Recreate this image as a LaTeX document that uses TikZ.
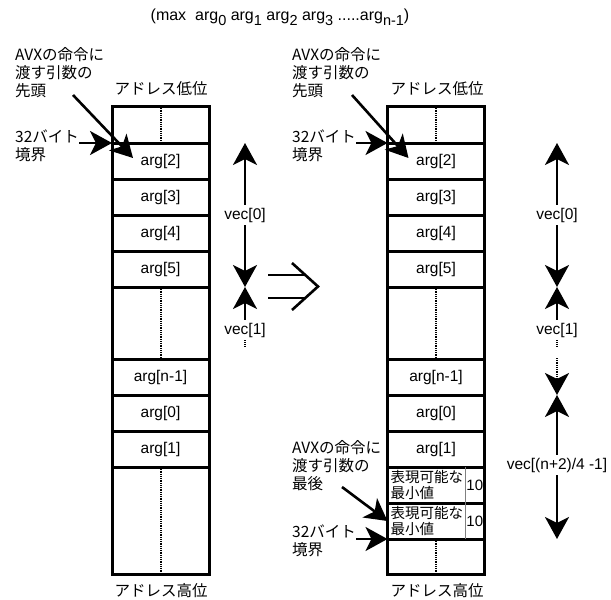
\documentclass[tikz,border=0pt]{standalone}
\usepackage{fontspec}
\setmainfont{Liberation Sans}
\newfontfamily\jpfont{Noto Sans CJK JP}
\usepackage{tikz}
\usetikzlibrary{arrows.meta,calc}

\newcommand{\lowidx}[1]{\raisebox{-5pt}{\fontsize{14.5}{14.5}\selectfont #1}}

\begin{document}
\begin{tikzpicture}[x=1pt,y=-1pt,
  cell/.style={draw,line width=3pt,minimum width=97pt,inner sep=0pt,outer sep=0pt,anchor=north,font=\fontsize{15.5}{17}\selectfont},
  note/.style={font=\jpfont\fontsize{15.5}{18}\selectfont,align=left,anchor=north west,inner sep=0pt},
  veclabel/.style={font=\fontsize{15.5}{17}\selectfont,inner sep=3pt},
  bigarrow/.style={line width=2.6pt,-{Stealth[length=22pt,width=24pt,inset=6pt]}},
  dots/.style={line width=2pt,dash pattern=on 1pt off 0.8pt},
  divider/.style={draw=gray,line width=1.2pt}]
\useasboundingbox (0,0) rectangle (611,600);

% title
\node[font=\fontsize{16}{18}\selectfont] (title) at (280,17) {(max\ \ arg\lowidx{0} arg\lowidx{1} arg\lowidx{2} arg\lowidx{3} .....arg\lowidx{n-1})};

% left column
\node[font=\jpfont\fontsize{15.5}{18}\selectfont] (lowL) at (161,89) {アドレス低位};
\node[cell,minimum height=37pt] (l0) at (160.5,106) {};
\node[cell,minimum height=36pt] (l1) at (160.5,143) {arg[2]};
\node[cell,minimum height=36pt] (l2) at (160.5,179) {arg[3]};
\node[cell,minimum height=36pt] (l3) at (160.5,215) {arg[4]};
\node[cell,minimum height=36pt] (l4) at (160.5,251) {arg[5]};
\node[cell,minimum height=72pt] (l5) at (160.5,287) {};
\node[cell,minimum height=36pt] (l6) at (160.5,359) {arg[n-1]};
\node[cell,minimum height=36pt] (l7) at (160.5,395) {arg[0]};
\node[cell,minimum height=36pt] (l8) at (160.5,431) {arg[1]};
\node[cell,minimum height=107pt] (l9) at (160.5,467) {};
\node[font=\jpfont\fontsize{15.5}{18}\selectfont] (highL) at (161,591) {アドレス高位};
\draw[dots] (l0.north) -- (l0.south);
\draw[dots] (l5.north) -- (l5.south);
\draw[dots] (l9.north) -- (l9.south);

\node[note] (headL) at (15,47) {AVXの命令に\\渡す引数の\\先頭};
\node[note] (b32L) at (15,130) {32バイト\\境界};
\coordinate (headLs) at (73,95);
\draw[bigarrow] (headLs) -- ($(l1.north west)+(21,15)$);
\draw[bigarrow] (b32L.east |- l1.north west) -- (l1.north west);

\node[veclabel] (v0L) at (245,215) {vec[0]};
\node[veclabel] (v1L) at (245,330) {vec[1]};
\coordinate (v1Lend) at (245,347);
\draw[bigarrow] (v0L) -- (v0L |- l1.north);
\draw[bigarrow] (v0L) -- (v0L |- l5.north);
\draw[bigarrow] (v1L) -- (v1L |- l5.north);
\draw[dots] (v1L.south) -- (v1Lend);

% hollow arrow
\draw[line width=2.6pt] (268,275) -- (306,275) (268,298) -- (306,298);
\draw[line width=2.6pt] (292,263) -- (318,286.5) -- (292,310);

% right column
\node[font=\jpfont\fontsize{15.5}{18}\selectfont] (lowR) at (437,89) {アドレス低位};
\node[cell,minimum height=37pt] (r0) at (436,106) {};
\node[cell,minimum height=36pt] (r1) at (436,143) {arg[2]};
\node[cell,minimum height=36pt] (r2) at (436,179) {arg[3]};
\node[cell,minimum height=36pt] (r3) at (436,215) {arg[4]};
\node[cell,minimum height=36pt] (r4) at (436,251) {arg[5]};
\node[cell,minimum height=72pt] (r5) at (436,287) {};
\node[cell,minimum height=36pt] (r6) at (436,359) {arg[n-1]};
\node[cell,minimum height=36pt] (r7) at (436,395) {arg[0]};
\node[cell,minimum height=36pt] (r8) at (436,431) {arg[1]};
\node[cell,minimum height=36pt] (r9) at (436,467) {};
\node[cell,minimum height=36pt] (r10) at (436,503) {};
\node[cell,minimum height=35pt] (r11) at (436,539) {};
\node[font=\jpfont\fontsize{15.5}{18}\selectfont] (highR) at (437,591) {アドレス高位};
\draw[dots] (r0.north) -- (r0.south);
\draw[dots] (r5.north) -- (r5.south);
\draw[dots] (r11.north) -- (r11.south);

\node[font=\jpfont\fontsize{14.5}{16}\selectfont,align=left,anchor=west,inner sep=0pt] (r9t) at ([xshift=3pt]r9.west) {表現可能な\\最小値};
\node[font=\fontsize{15}{17}\selectfont,anchor=east,minimum width=19pt,minimum height=36pt,inner sep=0pt] (r9v) at (r9.east) {10};
\draw[divider] (r9v.north west) -- (r9v.south west);
\node[font=\jpfont\fontsize{14.5}{16}\selectfont,align=left,anchor=west,inner sep=0pt] (r10t) at ([xshift=3pt]r10.west) {表現可能な\\最小値};
\node[font=\fontsize{15}{17}\selectfont,anchor=east,minimum width=19pt,minimum height=36pt,inner sep=0pt] (r10v) at (r10.east) {10};
\draw[divider] (r10v.north west) -- (r10v.south west);

\node[note] (headR) at (292,47) {AVXの命令に\\渡す引数の\\先頭};
\node[note] (b32R) at (292,130) {32バイト\\境界};
\coordinate (headRs) at (352,95);
\draw[bigarrow] (headRs) -- ($(r1.north west)+(21,15)$);
\draw[bigarrow] (b32R.east |- r1.north west) -- (r1.north west);

\node[note] (tailR) at (292,440) {AVXの命令に\\渡す引数の\\最後};
\node[note] (b32Rb) at (292,525) {32バイト\\境界};
\coordinate (tailRs) at (342,487);
\draw[bigarrow] (tailRs) -- (r10.west);
\draw[bigarrow] (b32Rb.east |- r11.north west) -- (r11.north west);

\node[veclabel] (v0R) at (557,215) {vec[0]};
\node[veclabel] (v1R) at (557,330) {vec[1]};
\node[veclabel] (vnR) at (557,465) {vec[(n+2)/4 -1]};
\coordinate (v1Rend) at (557,347);
\coordinate (vdotsR) at (557,358);
\draw[bigarrow] (v0R) -- (v0R |- r1.north);
\draw[bigarrow] (v0R) -- (v0R |- r5.north);
\draw[bigarrow] (v1R) -- (v1R |- r5.north);
\draw[dots] (v1R.south) -- (v1Rend);
\draw[dots,bigarrow] (vdotsR) -- (vdotsR |- r7.north);
\draw[bigarrow] (vnR) -- (vnR |- r7.north);
\draw[bigarrow] (vnR) -- (vnR |- r11.north);
\end{tikzpicture}
\end{document}
